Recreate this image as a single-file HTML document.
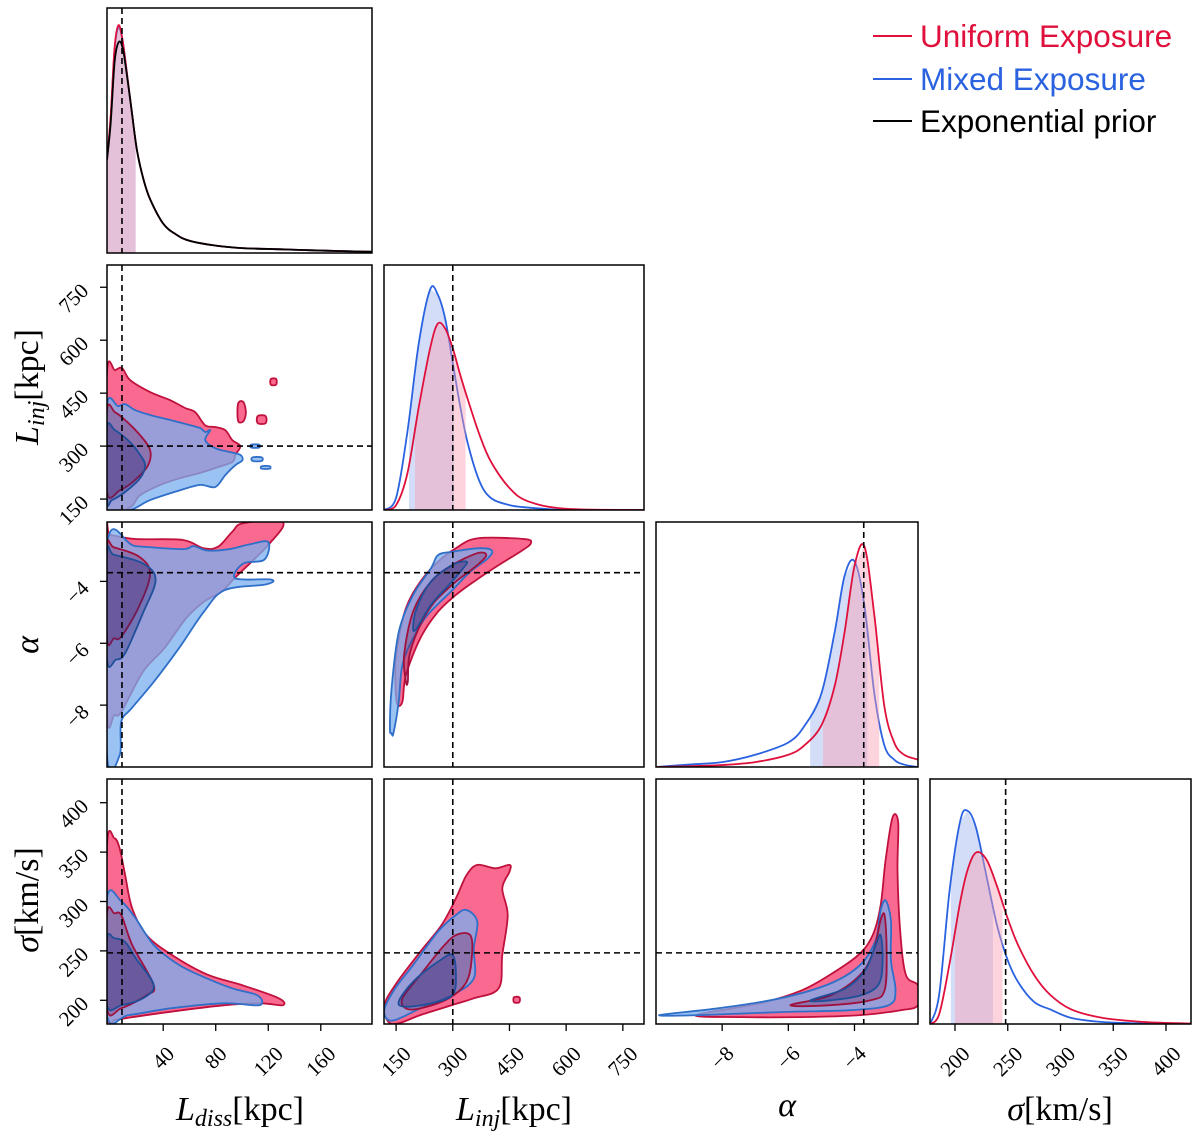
<!DOCTYPE html>
<html><head><meta charset="utf-8"><style>
body{margin:0;background:#fff;}
svg{display:block;}
.tick{font-family:"Liberation Serif",serif;font-size:21px;fill:#000;}
.ttl{font-family:"Liberation Serif",serif;font-size:34px;fill:#000;}
.leg{font-family:"Liberation Sans",sans-serif;font-size:31.5px;}
</style></head><body>
<svg id="fig" width="1200" height="1136" viewBox="0 0 1200 1136" xmlns="http://www.w3.org/2000/svg">
<g id="root"></g>
<g>
<line x1="873" y1="36" x2="912" y2="36" stroke="#e0103c" stroke-width="2"/>
<text class="leg" x="920" y="47" fill="#e0103c">Uniform Exposure</text>
<line x1="873" y1="79" x2="912" y2="79" stroke="#2a62e0" stroke-width="2"/>
<text class="leg" x="920" y="90" fill="#2a62e0">Mixed Exposure</text>
<line x1="873" y1="121" x2="912" y2="121" stroke="#000" stroke-width="2"/>
<text class="leg" x="920" y="132" fill="#000">Exponential prior</text>
</g>
<g>
<text class="ttl" x="240" y="1120" text-anchor="middle"><tspan font-style="italic">L</tspan><tspan font-style="italic" font-size="24" dy="6">diss</tspan><tspan dy="-6">[kpc]</tspan></text>
<text class="ttl" x="514" y="1120" text-anchor="middle"><tspan font-style="italic">L</tspan><tspan font-style="italic" font-size="24" dy="6">inj</tspan><tspan dy="-6">[kpc]</tspan></text>
<text class="ttl" x="787" y="1116" text-anchor="middle" font-style="italic">α</text>
<text class="ttl" x="1060" y="1120" text-anchor="middle"><tspan font-style="italic">σ</tspan>[km/s]</text>
<text class="ttl" transform="translate(38,387) rotate(-90)" text-anchor="middle"><tspan font-style="italic">L</tspan><tspan font-style="italic" font-size="24" dy="6">inj</tspan><tspan dy="-6">[kpc]</tspan></text>
<text class="ttl" transform="translate(38,645) rotate(-90)" text-anchor="middle" font-style="italic">α</text>
<text class="ttl" transform="translate(38,900) rotate(-90)" text-anchor="middle"><tspan font-style="italic">σ</tspan>[km/s]</text>
</g>
</svg>
<script>
// ---------- data ----------
const params = ["Ldiss","Linj","alpha","sigma"];
const truths = [8.6, 300, -3.72, 248];
const xDomains = [[-2.8,199],[118,806],[-10,-2.08],[176.3,423.7]];
const yDomains = [[0,1],[119,813],[-10,-2.08],[176,424]];
const xTicks = [[40,80,120,160],[150,300,450,600,750],[-8,-6,-4],[200,250,300,350,400]];
const yTicks = [[],[150,300,450,600,750],[-4,-6,-8],[200,250,300,350,400]];

// 1D marginals (density as fraction of panel height)
const ldissGrid = [-2.8,0,3,6,9,12,16,20,25,30,40,50,60,80,100,130,160,199];
const ldissRed = [0.38,0.56,0.84,0.93,0.87,0.75,0.58,0.42,0.3,0.22,0.12,0.075,0.05,0.03,0.02,0.015,0.01,0.005];
const ldissBlue = [0.38,0.55,0.83,0.92,0.87,0.75,0.58,0.42,0.3,0.22,0.12,0.075,0.05,0.03,0.02,0.015,0.01,0.005];
const ldissPrior = [0.38,0.53,0.78,0.86,0.84,0.74,0.58,0.42,0.3,0.22,0.12,0.075,0.05,0.03,0.02,0.015,0.01,0.005];
const ldissBandRed = [-2.8,19];
const ldissBandBlue = [-2.8,19];

const linjGrid = [118,150,180,210,240,260,280,300,320,340,370,400,450,500,600,806];
const linjBlue = [0,0.05,0.32,0.68,0.9,0.88,0.78,0.6,0.42,0.27,0.12,0.05,0.02,0.01,0,0];
const linjRed = [0,0.02,0.15,0.42,0.66,0.76,0.74,0.66,0.55,0.45,0.31,0.2,0.09,0.035,0.005,0];
const linjBandBlue = [184,303];
const linjBandRed = [200,334];

const alphaGrid = [-10,-9,-8,-7,-6,-5.5,-5,-4.6,-4.3,-4.0,-3.7,-3.4,-3.1,-2.8,-2.5,-2.08];
const alphaBlue = [0,0.01,0.02,0.05,0.1,0.17,0.3,0.55,0.78,0.84,0.66,0.3,0.09,0.03,0.01,0];
const alphaRed = [0,0.003,0.008,0.02,0.05,0.09,0.17,0.33,0.55,0.82,0.9,0.62,0.25,0.1,0.05,0.03];
const alphaBandBlue = [-5.34,-3.61];
const alphaBandRed = [-4.95,-3.25];

const sigmaGrid = [176.3,185,195,205,212,220,230,240,250,260,275,290,310,340,380,423.7];
const sigmaBlue = [0,0.12,0.55,0.83,0.87,0.8,0.6,0.4,0.26,0.17,0.09,0.06,0.025,0.008,0.002,0];
const sigmaRed = [0,0.04,0.25,0.5,0.63,0.7,0.67,0.56,0.43,0.32,0.2,0.12,0.06,0.025,0.008,0.002];
const sigmaBandBlue = [196,236];
const sigmaBandRed = [200,245];

// 2D contours [x, y] in data units
const c10RedOuter = [[-2.8,119],[-2.8,510],[3.3,515],[8.7,521],[14.8,487],[30,453],[45.3,430],[56.7,408],[64.4,396],[72,359],[79.6,354],[87.3,345],[92.6,317],[98.7,300],[94.9,275],[92.6,255],[79.6,238],[68.2,224],[52.9,209],[37.7,190],[22.4,161],[14.8,127]];
const c10BlueOuter = [[-2.8,119],[-2.8,416],[5.6,413],[11,419],[18.6,402],[30,388],[45.3,374],[60.6,359],[68.2,351],[72,340],[75.8,345],[72,317],[79.6,294],[91.1,283],[98.7,275],[100.3,260],[94.9,246],[87.3,218],[79.6,184],[68.2,190],[52.9,175],[30,147],[14.8,119]];
const c10RedInner = [[-2.8,170],[-2.8,402],[3.3,396],[11,374],[22.4,331],[30,289],[28.5,246],[18.6,204],[7.1,175]];
const c10BlueInner = [[-2.8,147],[-2.8,351],[3.3,345],[14.8,311],[22.4,275],[26.2,246],[22.4,209],[11,170],[1,147]];
const c10RedIsle1 = [[97,420],[101,425],[103,395],[101,370],[97,372]];
const c10RedIsle2 = [[112,385],[118,385],[118,365],[112,365]];
const c10RedIsle3 = [[122,490],[126,490],[126,474],[122,474]];
const c10BlueIsle1 = [[107,304],[113,304],[113,296],[107,296]];
const c10BlueIsle2 = [[108,268],[115,268],[115,258],[108,258]];
const c10BlueIsle3 = [[115,243],[121,243],[121,236],[115,236]];

const c20RedOuter = [[-2.8,-8.3],[-2.8,-2.5],[0,-2.5],[19,-2.63],[54.6,-2.66],[70.9,-2.93],[81.8,-2.88],[92.7,-2.39],[100.9,-2.12],[131,-2.08],[120,-2.82],[95.4,-3.85],[84.5,-4.33],[70.9,-4.66],[57.3,-5.2],[40.9,-6.16],[24.6,-6.92],[8.2,-8.21],[2.8,-8.32]];
const c20BlueOuter = [[-2.8,-9.6],[-2.8,-2.8],[19,-2.86],[54.5,-2.96],[63,-2.86],[73.5,-3.0],[90,-2.96],[106,-2.8],[120,-2.73],[117,-3.3],[101,-3.42],[95,-3.9],[122,-3.94],[118,-4.1],[87,-4.28],[71,-4.98],[52,-6.16],[33,-7.24],[16,-8.1],[8,-8.54],[7,-9.6]];
const c20RedInner = [[-2.8,-5.85],[-2.8,-2.9],[2.5,-2.9],[21.6,-3.2],[30,-3.75],[21.6,-4.81],[8.2,-5.78],[2.5,-5.84]];
const c20BlueInner = [[-2.8,-6.5],[-2.8,-3.1],[2.5,-3.14],[24.6,-3.42],[34.2,-3.95],[24.6,-5.02],[11,-6.32],[4,-6.53]];

const c21RedOuter = [[506.7,-2.77],[487.8,-2.63],[365,-2.61],[308,-2.93],[261,-3.36],[214,-4.01],[176,-4.87],[152.4,-6.17],[147.7,-7.03],[152.4,-7.94],[166.6,-7.89],[176,-7.03],[214,-5.84],[261,-4.98],[308,-4.44],[355.5,-4.01],[421.7,-3.47],[478.4,-3.04]];
const c21BlueOuter = [[138.2,-8.91],[133.5,-8.75],[138.2,-7.46],[157.1,-5.63],[195,-4.44],[242,-3.58],[261,-3.15],[299,-3.04],[365,-2.93],[402.7,-2.99],[393.3,-3.25],[346,-3.69],[299,-4.28],[233,-5.09],[195,-5.84],[166.6,-6.7],[157,-7.89],[143,-8.91]];
const c21RedInner = [[176,-7.24],[171.3,-6.38],[195,-4.98],[242,-4.01],[299,-3.47],[365,-3.09],[388.6,-3.15],[365,-3.47],[308,-4.01],[252,-4.66],[214,-5.41],[185.5,-6.38],[181,-7.24]];
const c21BlueInner = [[195,-5.52],[204.4,-4.87],[242,-4.01],[299,-3.47],[336.6,-3.36],[327,-3.58],[289.4,-4.12],[242,-4.76],[204.4,-5.52]];

const c30RedOuter = [[-2.8,178],[-2.8,355],[2.8,364],[6.8,354],[11,327],[16.4,293],[27.3,266],[46.4,246],[73.6,226],[100.9,215],[128,202],[131,195],[114.5,197],[87,195],[46,188.5],[19,183.4],[2.8,180]];
const c30BlueOuter = [[-2.8,185],[-2.8,303],[8.2,300],[19,283],[32.8,256],[51.8,236],[73.6,222],[92.7,212],[111.8,205],[113.2,195],[87,197],[46.4,192],[13.7,185]];
const c30RedInner = [[-2.8,192],[-2.8,287],[2.8,288],[8.2,286],[16.4,256],[32.8,215.5],[27.3,205],[8.2,192]];
const c30BlueInner = [[-2.8,195],[-2.8,262],[2.8,262.7],[11,259],[19.1,242.5],[32.8,215.5],[24.6,202],[8.2,195]];

const c31RedOuter = [[119.3,195.2],[147.7,215.5],[214,249.2],[270.5,276.2],[308.3,303.2],[336.6,326.8],[365,337],[412.2,333.6],[450,337],[450,330.2],[431,313.3],[445.3,286.3],[431,245.8],[421.6,212.1],[355.5,202],[299,195.2],[214,185],[157,176.7],[128.8,178.4]];
const c31BlueOuter = [[119.3,191.8],[147.7,212.1],[195,235.7],[261,269.5],[308.3,286.3],[336.6,291.4],[365,279.6],[355.5,252.6],[355.5,222.2],[299,205.4],[214,191.8],[147.7,180],[124,181.7]];
const c31RedInner = [[166.6,202],[214,225.6],[270.5,252.6],[308.3,266],[346,266],[350.8,245.8],[336.6,218.8],[289.4,202],[214,191.8],[176,191.8]];
const c31BlueInner = [[157,198.6],[195,218.8],[261,239],[299,245.8],[308.3,225.6],[299,205.4],[242,196.9],[176,193.5]];
const c31RedIsle = [[462,203],[476,203],[476,198],[462,198]];

const c32RedOuter = [[-8.8,185],[-6.85,197],[-5.6,210],[-4.73,226],[-3.88,246],[-3.45,266],[-3.21,296],[-3.06,342],[-2.85,385],[-2.68,380],[-2.7,332],[-2.62,271],[-2.45,226],[-2.08,215],[-2.08,195],[-2.6,190],[-3.82,185],[-5.64,183],[-7.45,183]];
const c32BlueOuter = [[-9.9,185],[-8.1,192],[-6.24,202],[-4.73,217],[-3.82,236],[-3.36,261],[-3.21,291],[-3.06,301],[-2.9,281],[-2.9,241],[-2.76,210],[-2.97,195],[-4.12,190],[-6.24,188],[-8.67,185]];
const c32RedInner = [[-5.94,195],[-4.73,205],[-3.82,226],[-3.42,251],[-3.21,281],[-3.09,286],[-3.03,251],[-3.09,210],[-3.52,200],[-4.73,195]];
const c32BlueInner = [[-5.33,200],[-4.27,212],[-3.67,231],[-3.36,256],[-3.21,266],[-3.15,241],[-3.27,216],[-3.82,205],[-4.73,200]];

// ---------- layout ----------
const colX = [107,384,656,930], colW = [265,260,262,261];
const rowY = [8,265,522,779], rowH = 245;
const NS = "http://www.w3.org/2000/svg";
const root = document.getElementById('root');
function el(tag, attrs, parent){ const e=document.createElementNS(NS,tag); for(const k in attrs) e.setAttribute(k,attrs[k]); (parent||root).appendChild(e); return e; }
function xScale(c){ const d=xDomains[c]; return v => colX[c] + (v-d[0])/(d[1]-d[0])*colW[c]; }
function yScale(r){ const d=yDomains[r]; return v => rowY[r]+rowH - (v-d[0])/(d[1]-d[0])*rowH; }
function smoothClosed(pts){
  const n=pts.length; let d=`M${pts[0][0].toFixed(1)},${pts[0][1].toFixed(1)}`;
  for(let i=0;i<n;i++){ const p0=pts[(i-1+n)%n],p1=pts[i],p2=pts[(i+1)%n],p3=pts[(i+2)%n];
    const c1=[p1[0]+(p2[0]-p0[0])/6,p1[1]+(p2[1]-p0[1])/6], c2=[p2[0]-(p3[0]-p1[0])/6,p2[1]-(p3[1]-p1[1])/6];
    d+=`C${c1[0].toFixed(1)},${c1[1].toFixed(1)} ${c2[0].toFixed(1)},${c2[1].toFixed(1)} ${p2[0].toFixed(1)},${p2[1].toFixed(1)}`; }
  return d+'Z';
}
function clipFor(r,c){
  const id=`clip${r}${c}`; const cp=el('clipPath',{id:id});
  el('rect',{x:colX[c],y:rowY[r],width:colW[c],height:rowH},cp); return `url(#${id})`;
}
const STYLES = {
  redOuter:{fill:'#fa6a90',stroke:'#c0103c'},
  blueOuter:{fill:'rgba(120,175,240,0.75)',stroke:'#2f6fc8'},
  redInner:{fill:'rgba(120,30,90,0.32)',stroke:'#a0103c'},
  blueInner:{fill:'rgba(40,40,120,0.35)',stroke:'#1f4f9a'}
};
function contour(g, pts, r, c, style, name){
  const xs=xScale(c), ys=yScale(r);
  const px=pts.map(p=>[xs(p[0]),ys(p[1])]);
  const p=el('path',{d:smoothClosed(px),fill:STYLES[style].fill,stroke:STYLES[style].stroke,'stroke-width':1.8},g);
  
  
}
function kde(g, grid, vals, c, r, color, name, band, bandColor){
  const xs=xScale(c); const base=rowY[r]+rowH;
  if(band){
    const pts=[]; const a=band[0], b=band[1];
    const interp=v=>{ for(let i=0;i<grid.length-1;i++){ if(v>=grid[i]&&v<=grid[i+1]){ const t=(v-grid[i])/(grid[i+1]-grid[i]); return vals[i]+(vals[i+1]-vals[i])*t; } } return 0; };
    pts.push([xs(a),base],[xs(a),base-interp(a)*rowH]);
    grid.forEach((gx,i)=>{ if(gx>a&&gx<b) pts.push([xs(gx),base-vals[i]*rowH]); });
    pts.push([xs(b),base-interp(b)*rowH],[xs(b),base]);
    const bp=el('polygon',{points:pts.map(p=>p.join(',')).join(' '),fill:bandColor},g);
    
    
  }
  const n=grid.length; const P=grid.map((gx,i)=>[xs(gx),base-vals[i]*rowH]);
  let d=`M${P[0][0]},${P[0][1]}`;
  for(let i=0;i<n-1;i++){ const p0=P[Math.max(i-1,0)],p1=P[i],p2=P[i+1],p3=P[Math.min(i+2,n-1)];
    d+=`C${p1[0]+(p2[0]-p0[0])/6},${p1[1]+(p2[1]-p0[1])/6} ${p2[0]-(p3[0]-p1[0])/6},${p2[1]-(p3[1]-p1[1])/6} ${p2[0]},${p2[1]}`; }
  const line=el('path',{d:d,fill:'none',stroke:color,'stroke-width':1.8},g);
  
  
}

const contours = {
  "1,0":[[c10RedOuter,'redOuter'],[c10RedIsle1,'redOuter'],[c10RedIsle2,'redOuter'],[c10RedIsle3,'redOuter'],[c10BlueOuter,'blueOuter'],[c10BlueIsle1,'blueOuter'],[c10BlueIsle2,'blueOuter'],[c10BlueIsle3,'blueOuter'],[c10RedInner,'redInner'],[c10BlueInner,'blueInner']],
  "2,0":[[c20RedOuter,'redOuter'],[c20BlueOuter,'blueOuter'],[c20RedInner,'redInner'],[c20BlueInner,'blueInner']],
  "2,1":[[c21RedOuter,'redOuter'],[c21BlueOuter,'blueOuter'],[c21RedInner,'redInner'],[c21BlueInner,'blueInner']],
  "3,0":[[c30RedOuter,'redOuter'],[c30BlueOuter,'blueOuter'],[c30RedInner,'redInner'],[c30BlueInner,'blueInner']],
  "3,1":[[c31RedOuter,'redOuter'],[c31RedIsle,'redOuter'],[c31BlueOuter,'blueOuter'],[c31RedInner,'redInner'],[c31BlueInner,'blueInner']],
  "3,2":[[c32RedOuter,'redOuter'],[c32BlueOuter,'blueOuter'],[c32RedInner,'redInner'],[c32BlueInner,'blueInner']]
};
const diag = [
  {grid:ldissGrid, red:ldissRed, blue:ldissBlue, prior:ldissPrior, bR:ldissBandRed, bB:ldissBandBlue},
  {grid:linjGrid, red:linjRed, blue:linjBlue, bR:linjBandRed, bB:linjBandBlue},
  {grid:alphaGrid, red:alphaRed, blue:alphaBlue, bR:alphaBandRed, bB:alphaBandBlue},
  {grid:sigmaGrid, red:sigmaRed, blue:sigmaBlue, bR:sigmaBandRed, bB:sigmaBandBlue}
];
function fmt(t){ return t<0 ? '\u2212'+(-t) : String(t); }
function halfBox(s){ return ((s.length*10.5)+15)*0.707/2; }

for(let r=0;r<4;r++){
  for(let c=0;c<=r;c++){
    const g=el('g',{});
    
    
    const inner=el('g',{'clip-path':clipFor(r,c)},g);
    const xs=xScale(c);
    if(r===c){
      const D=diag[r];
      kde(inner,D.grid,D.blue,c,r,'#2a62e0',`kde-blue-${params[r]}`,D.bB,'rgba(160,180,240,0.45)');
      kde(inner,D.grid,D.red,c,r,'#e0103c',`kde-red-${params[r]}`,D.bR,'rgba(250,160,180,0.45)');
      if(D.prior) kde(inner,D.grid,D.prior,c,r,'#000',`kde-prior-${params[r]}`,null,null);
      const tl=el('line',{x1:xs(truths[c]),x2:xs(truths[c]),y1:rowY[r],y2:rowY[r]+rowH,stroke:'#000','stroke-width':1.6,'stroke-dasharray':'6,4'},inner);
       
    } else {
      const ys=yScale(r);
      contours[`${r},${c}`].forEach((cc,i)=>contour(inner,cc[0],r,c,cc[1],`contour-${cc[1]}-${i}`));
      const v=el('line',{x1:xs(truths[c]),x2:xs(truths[c]),y1:rowY[r],y2:rowY[r]+rowH,stroke:'#000','stroke-width':1.6,'stroke-dasharray':'6,4'},inner);
       
      const h=el('line',{x1:colX[c],x2:colX[c]+colW[c],y1:ys(truths[r]),y2:ys(truths[r]),stroke:'#000','stroke-width':1.6,'stroke-dasharray':'6,4'},inner);
       
    }
    const fr=el('rect',{x:colX[c],y:rowY[r],width:colW[c],height:rowH,fill:'none',stroke:'#000','stroke-width':1.5},g);
     
    if(r===3){
      xTicks[c].forEach(t=>{
        const x=xs(t); const s=fmt(t);
        el('line',{x1:x,x2:x,y1:rowY[3]+rowH,y2:rowY[3]+rowH+7,stroke:'#000','stroke-width':1.3},g);
        const cy=rowY[3]+rowH+21+halfBox(s);
        const tx=el('text',{class:'tick','text-anchor':'middle',transform:`translate(${x},${cy}) rotate(-45) translate(0,7)`},g);
        tx.textContent=s;
         
      });
    }
    if(c===0 && r>0){
      const ys=yScale(r);
      yTicks[r].forEach(t=>{
        const y=ys(t); const s=fmt(t);
        el('line',{x1:colX[0]-7,x2:colX[0],y1:y,y2:y,stroke:'#000','stroke-width':1.3},g);
        const cx=colX[0]-17-halfBox(s);
        const tx=el('text',{class:'tick','text-anchor':'middle',transform:`translate(${cx},${y+11}) rotate(-45) translate(0,7)`},g);
        tx.textContent=s;
         
      });
    }
  }
}
</script>
</body></html>
